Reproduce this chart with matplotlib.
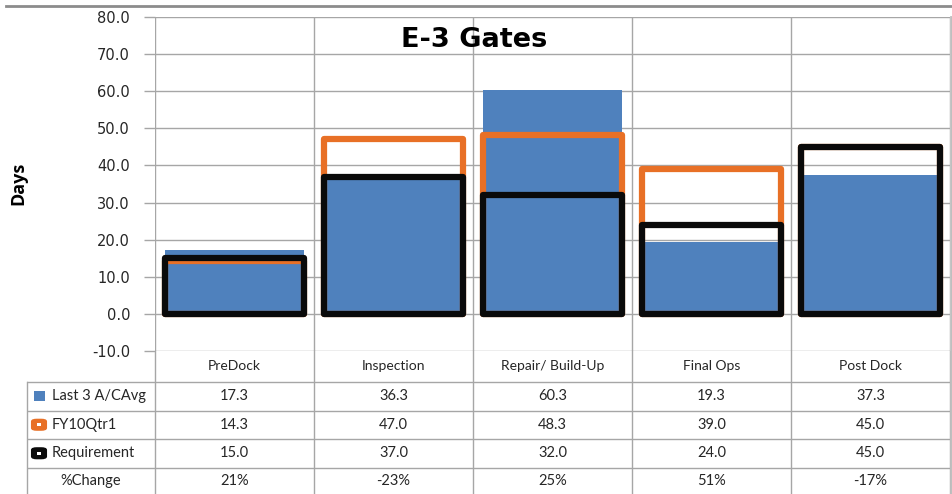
import numpy as np
import matplotlib.pyplot as plt
from matplotlib.patches import FancyBboxPatch, Rectangle

categories = ["PreDock", "Inspection", "Repair/ Build-Up", "Final Ops", "Post Dock"]
last3_avg = [17.3, 36.3, 60.3, 19.3, 37.3]
fy10_qtr1 = [14.3, 47.0, 48.3, 39.0, 45.0]
requirement = [15.0, 37.0, 32.0, 24.0, 45.0]
pct_change = ["21%", "-23%", "25%", "51%", "-17%"]
series_names = ["Last 3 A/CAvg", "FY10Qtr1", "Requirement"]
yticks = np.arange(-10, 81, 10)

BLUE = "#4F81BD"
ORANGE = "#E87026"
BLACK = "#0A0A0A"
GRID = "#A6A6A6"
TXT = "#262626"

W, H = 952, 494
fig = plt.figure(figsize=(W / 100, H / 100), dpi=100)
tfont = ["Lato", "DejaVu Sans"]

# -----------------------
# chart area
# -----------------------
ax = fig.add_axes([155 / W, (H - 351) / H, 795 / W, (351 - 17) / H])
x = np.arange(len(categories))
ax.set_xlim(-0.5, len(categories) - 0.5)
ax.set_ylim(-10, 80)
for s in ax.spines.values():
    s.set_visible(False)
ax.set_yticks(yticks)
ax.set_yticklabels([f"{v:.1f}" for v in yticks], fontsize=10.5, color=TXT)
ax.tick_params(axis="y", length=8, color=GRID, width=1, pad=10)
ax.set_xticks([])
ax.yaxis.grid(True, color=GRID, lw=1)
ax.set_axisbelow(True)
for b in np.arange(-0.5, len(categories), 1):
    ax.axvline(b, color=GRID, lw=1, zorder=0)

w = 0.88
ax.bar(x, last3_avg, width=w, color=BLUE, zorder=2)
ax.bar(x, fy10_qtr1, width=w, fill=False, edgecolor=ORANGE, lw=4.5,
       joinstyle="round", zorder=3)
ax.bar(x, requirement, width=w, fill=False, edgecolor=BLACK, lw=4.5,
       joinstyle="round", zorder=4)

ax.text(1.51, 73.8, "E-3 Gates", ha="center", va="center", fontsize=19.5,
        fontweight="bold", color="black")
fig.text(18 / W, 1 - 183 / H, "Days", rotation=90, ha="center", va="center",
         fontsize=13, fontweight="bold", family=["Open Sans", "DejaVu Sans"])

# -----------------------
# data table
# -----------------------
tab = fig.add_axes([27 / W, 0, (950 - 27) / W, (H - 351) / H])
left = -0.5 - 128 / 159
tab.set_xlim(left, len(categories) - 0.5)
tab.set_ylim(143, 0)
tab.axis("off")

rows = [31, 59.5, 88, 116.5, 143]
for b in np.arange(-0.5, len(categories), 1):
    tab.plot([b, b], [0, 143], color=GRID, lw=1, clip_on=False)
tab.plot([left, left], [rows[0], 143], color=GRID, lw=1, clip_on=False)
for r in rows[:-1]:
    tab.plot([left, len(categories) - 0.5], [r, r], color=GRID, lw=1)

for i, c in enumerate(categories):
    tab.text(i, 15.5, c, ha="center", va="center", fontsize=10, color=TXT,
             family=tfont)

table_vals = [
    [f"{v:.1f}" for v in last3_avg],
    [f"{v:.1f}" for v in fy10_qtr1],
    [f"{v:.1f}" for v in requirement],
    pct_change,
]
for r, vals in enumerate(table_vals):
    yc = (rows[r] + rows[r + 1]) / 2
    for i, v in enumerate(vals):
        tab.text(i, yc, v, ha="center", va="center", fontsize=10.5,
                 color=TXT, family=tfont)

# row headers with legend keys
u = (len(categories) - 0.5 - left) / (950 - 27)  # data units per pixel
hdr_x = left + 25 * u
for r, (name, col) in enumerate(zip(series_names, [BLUE, ORANGE, BLACK])):
    yc = (rows[r] + rows[r + 1]) / 2
    if r == 0:
        tab.add_patch(Rectangle((left + 7 * u, yc - 5), 11 * u, 10,
                                facecolor=col, edgecolor="none"))
    else:
        tab.add_patch(FancyBboxPatch((left + 5 * u, yc - 5), 14 * u, 10,
                                     boxstyle="round,pad=0,rounding_size=0.03",
                                     facecolor=col, edgecolor=col, lw=1.5,
                                     mutation_aspect=60))
        tab.add_patch(Rectangle((left + 10 * u, yc - 1.6), 4.5 * u, 3.2,
                                facecolor="white", edgecolor="none"))
    tab.text(hdr_x, yc, name, ha="left", va="center", fontsize=10.5,
             color=TXT, family=tfont)
tab.text((left - 0.5) / 2, (rows[3] + rows[4]) / 2, "%Change", ha="center",
         va="center", fontsize=10.5, color=TXT, family=tfont)

# slide border lines
fig.add_artist(plt.Line2D([6 / W, 1], [1 - 6.5 / H, 1 - 6.5 / H],
                          color="#8C8C8C", lw=2))
fig.add_artist(plt.Line2D([950.5 / W, 950.5 / W], [0, 1 - 17 / H],
                          color="#BFBFBF", lw=2))

fig.savefig("out.png", dpi=100)
